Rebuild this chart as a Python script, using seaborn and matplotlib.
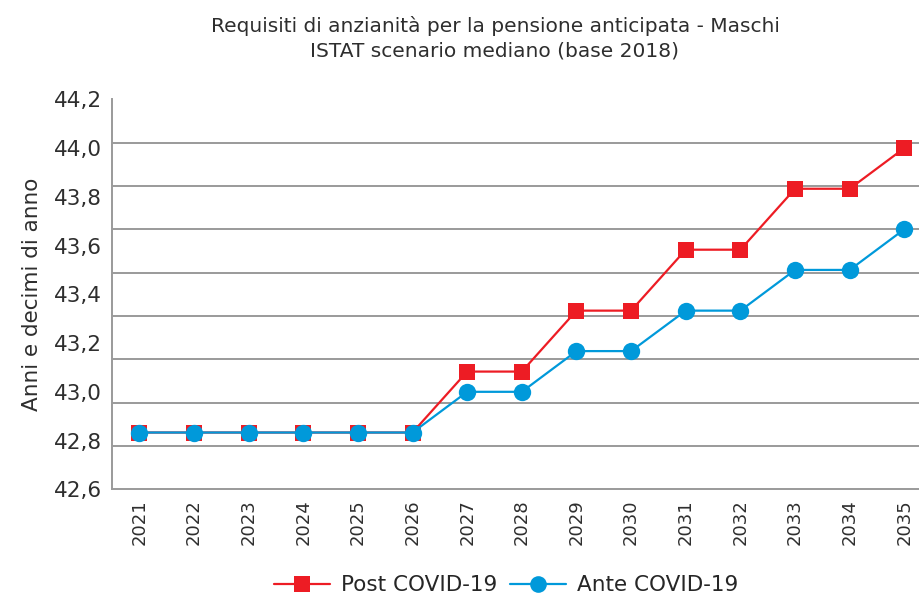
import matplotlib
matplotlib.use("Agg")
import matplotlib.pyplot as plt
from matplotlib.ticker import FixedLocator
from matplotlib.lines import Line2D
import numpy as np
import pandas as pd
import seaborn as sns

anni = list(range(2021, 2036))
post_covid = [42.833, 42.833, 42.833, 42.833, 42.833, 42.833, 43.083, 43.083,
              43.333, 43.333, 43.583, 43.583, 43.833, 43.833, 44.0]
ante_covid = [42.833, 42.833, 42.833, 42.833, 42.833, 42.833, 43.0, 43.0,
              43.167, 43.167, 43.333, 43.333, 43.5, 43.5, 43.667]
serie = ["Post COVID-19", "Ante COVID-19"]
colori = {"Post COVID-19": "#ED1C24", "Ante COVID-19": "#0099DA"}
marker = {"Post COVID-19": "s", "Ante COVID-19": "o"}

df = pd.DataFrame({
    "anno": anni * 2,
    "valore": post_covid + ante_covid,
    "serie": [serie[0]] * len(anni) + [serie[1]] * len(anni),
})

sns.set_style("white")
plt.rcParams["font.family"] = ["DejaVu Sans"]
testo = "#2e2e2e"

fig = plt.figure(figsize=(9.2, 5.96), dpi=100)
ax = fig.add_axes([0.1217, 0.179, 0.891, 0.6544])

for s in serie:
    d = df[df.serie == s]
    sns.lineplot(data=d, x="anno", y="valore", ax=ax, color=colori[s],
                 marker=marker[s], markersize=11.5 if s == serie[0] else 12.5,
                 markeredgewidth=0, linewidth=1.6, legend=False)

ax.set_xlim(2020.5, 2035.5)
ax.set_ylim(42.6, 44.2)
ax.set_xticks(anni)
ax.set_xticklabels([str(a) for a in anni], rotation=90, fontsize=13, color=testo)
yt = np.round(np.arange(42.6, 44.21, 0.2), 1)
ax.set_yticks(yt)
ax.set_yticklabels([f"{v:.1f}".replace(".", ",") for v in yt], fontsize=15.5, color=testo)
ax.yaxis.set_minor_locator(FixedLocator(np.linspace(42.6, 44.2, 10)))
ax.yaxis.grid(True, which="minor", color="#9a9a9a", linewidth=1.4)
ax.yaxis.grid(False, which="major")
ax.set_axisbelow(True)
ax.tick_params(axis="both", which="both", length=0)
ax.tick_params(axis="y", pad=7)
ax.tick_params(axis="x", pad=7)

for sp in ["top", "right"]:
    ax.spines[sp].set_visible(False)
for sp in ["left", "bottom"]:
    ax.spines[sp].set_color("#9a9a9a")
    ax.spines[sp].set_linewidth(1.4)

ax.set_xlabel("")
ax.set_ylabel("Anni e decimi di anno", fontsize=15.5, color=testo, labelpad=9)

fig.text(0.538, 0.957, "Requisiti di anzianità per la pensione anticipata - Maschi",
         ha="center", va="center", fontsize=14.5, color=testo)
fig.text(0.538, 0.915, "ISTAT scenario mediano (base 2018)",
         ha="center", va="center", fontsize=14.5, color=testo)

handles = [Line2D([], [], color=colori[s], marker=marker[s], markersize=12,
                  markeredgewidth=0, linewidth=1.6) for s in serie]
fig.legend(handles, serie, loc="center", bbox_to_anchor=(0.55, 0.018), ncol=2,
           frameon=False, fontsize=15.5, handlelength=2.6, columnspacing=0.6,
           handletextpad=0.5)

fig.savefig("out.png", dpi=100)
